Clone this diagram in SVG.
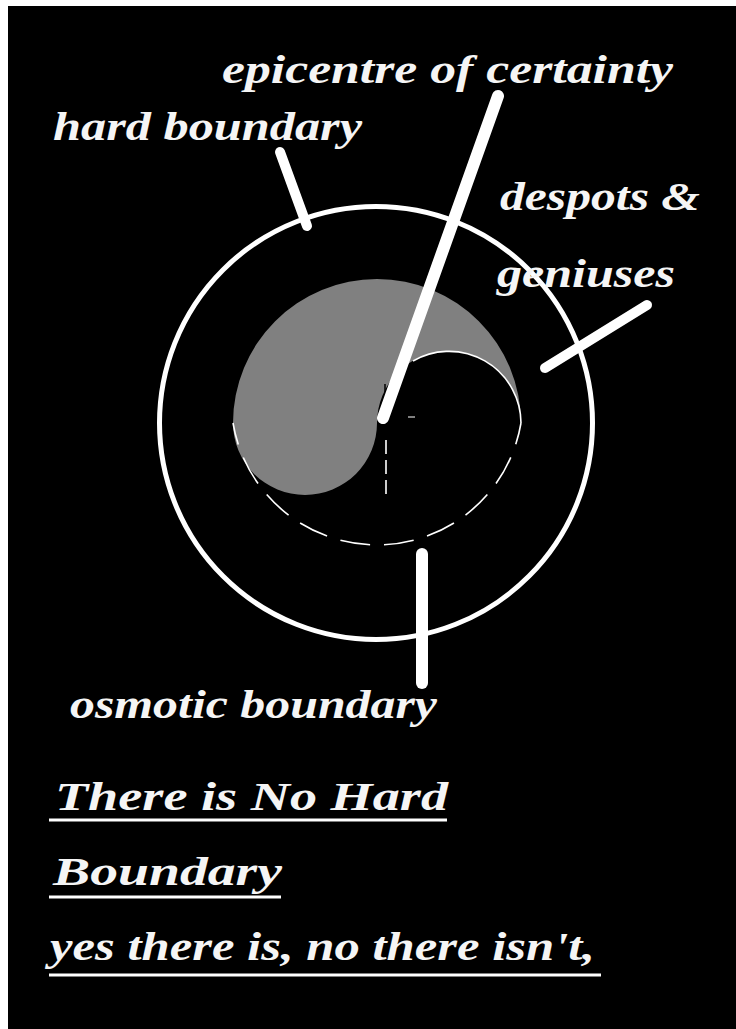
<svg xmlns="http://www.w3.org/2000/svg" width="736" height="1029" viewBox="0 0 736 1029">
<style>
.lbl{font-family:"Liberation Serif","DejaVu Serif",serif;font-style:italic;font-weight:bold;font-size:41px;fill:#f5f5f5}
.ptr{stroke:#fff;stroke-linecap:round;fill:none}
.thin{stroke:#fff;fill:none;stroke-width:1.6}
.ul{stroke:#fff;stroke-width:3}
</style>
<rect x="0" y="0" width="736" height="1029" fill="#fff"/>
<rect x="8" y="6" width="728" height="1023" fill="#000"/>
<g id="hard-boundary-circle">
<circle cx="376" cy="423" r="216.5" fill="none" stroke="#fff" stroke-width="5"/>
</g>
<g id="certainty-core">
<path d="M233,423 A144,144 0 0 1 521,423 A72,72 0 0 0 377,423 A72,72 0 0 1 233,423 Z" fill="#808080"/>
<path class="thin" d="M413,361 A72,72 0 0 1 521,423"/>
<line x1="385" y1="384" x2="385" y2="420" stroke="#000" stroke-width="1.5" stroke-dasharray="10 5"/>
<line x1="408" y1="417" x2="415" y2="417" stroke="#fff" stroke-width="1"/>
</g>
<g id="osmotic-boundary">
<path class="thin" d="M521,423 A146,146 0 0 1 233,423" stroke-dasharray="30 14" stroke-dashoffset="8"/>
<line class="thin" x1="386" y1="440" x2="386" y2="498" stroke-dasharray="14 6" stroke-width="1.2"/>
</g>
<g id="connectors">
<line class="ptr" x1="498" y1="96" x2="383" y2="418" stroke-width="12"/>
<line class="ptr" x1="280" y1="152" x2="307" y2="226" stroke-width="10"/>
<line class="ptr" x1="647" y1="305" x2="545" y2="368" stroke-width="10"/>
<line class="ptr" x1="422" y1="554" x2="422" y2="683" stroke-width="12"/>
</g>
<g id="label-epicentre"><text class="lbl" x="222" y="83" textLength="451" lengthAdjust="spacingAndGlyphs">epicentre of certainty</text></g>
<g id="label-hard"><text class="lbl" x="53" y="140" textLength="309" lengthAdjust="spacingAndGlyphs">hard boundary</text></g>
<g id="label-despots">
<text class="lbl" x="500" y="210" textLength="200" lengthAdjust="spacingAndGlyphs">despots &amp;</text>
<text class="lbl" x="497" y="287" textLength="178" lengthAdjust="spacingAndGlyphs">geniuses</text>
</g>
<g id="label-osmotic"><text class="lbl" x="70" y="718" textLength="367" lengthAdjust="spacingAndGlyphs">osmotic boundary</text></g>
<g id="statement">
<text class="lbl" x="55" y="810" textLength="393" lengthAdjust="spacingAndGlyphs">There is No Hard</text>
<line class="ul" x1="49" y1="820" x2="447" y2="820"/>
<text class="lbl" x="53" y="885" textLength="229" lengthAdjust="spacingAndGlyphs">Boundary</text>
<line class="ul" x1="49" y1="897" x2="281" y2="897"/>
<text class="lbl" x="50" y="960" textLength="545" lengthAdjust="spacingAndGlyphs">yes there is, no there isn't,</text>
<line class="ul" x1="49" y1="975" x2="601" y2="975"/>
</g>
</svg>
